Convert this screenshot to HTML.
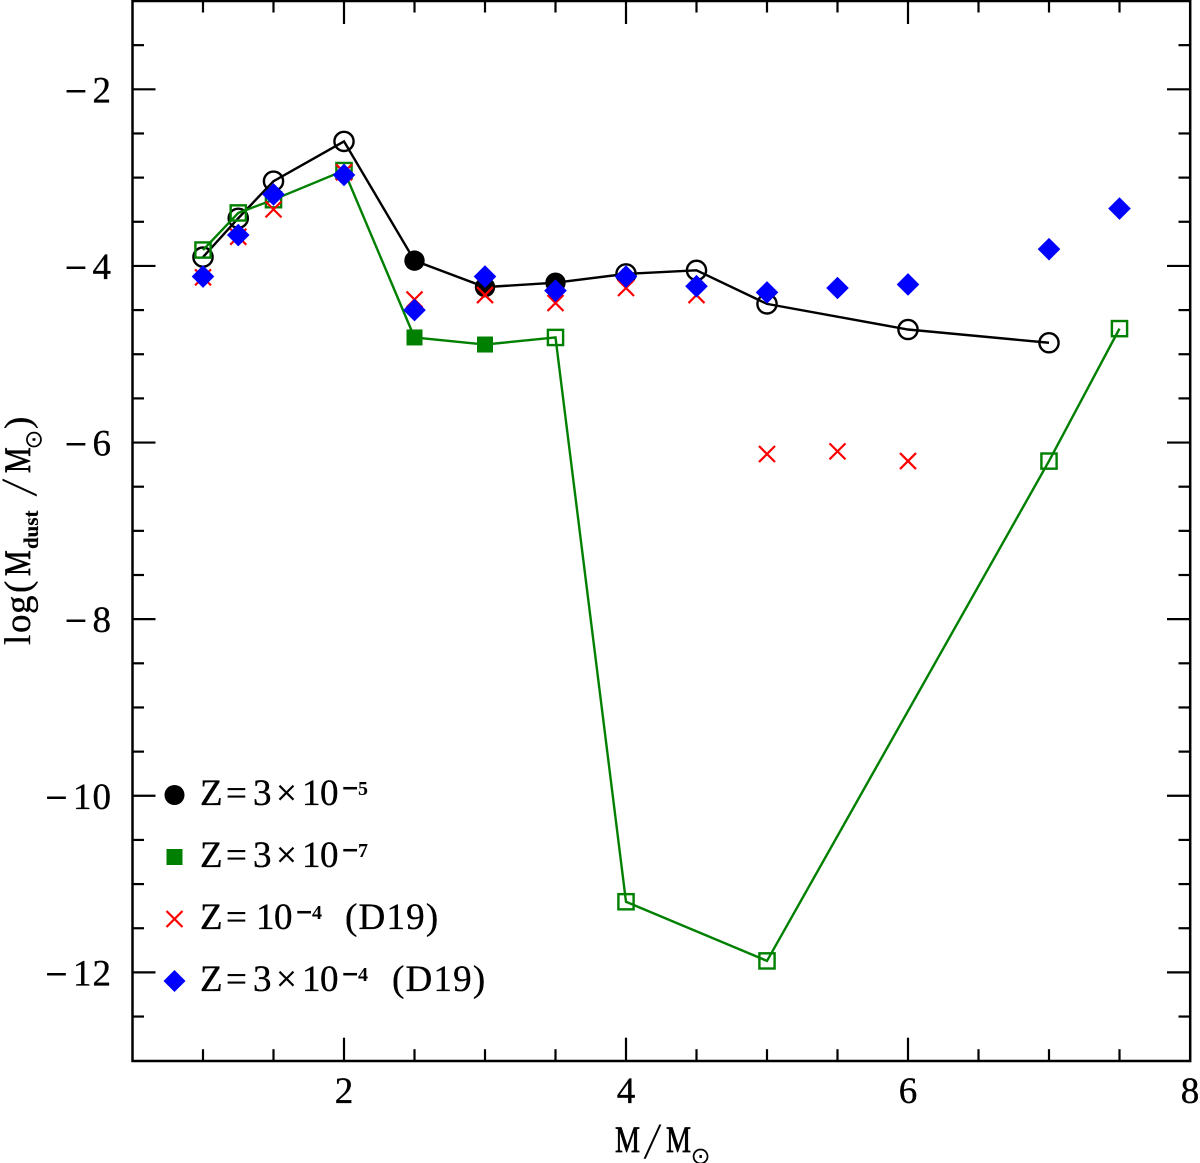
<!DOCTYPE html>
<html lang="en">
<head>
<meta charset="utf-8">
<title>Dust mass vs stellar mass</title>
<style>
html,body{margin:0;padding:0;background:#fff;}
svg{display:block;}
text{font-family:"Liberation Serif","DejaVu Serif",serif;fill:#000;stroke:#000;stroke-width:.35px;}
.t{font-size:37px;}
.m{font-size:37px;stroke-width:.7px;}
.sl{font-size:36px;stroke-width:.4px;}
.s{font-size:20px;font-weight:bold;stroke-width:0;}
.sm{font-family:"DejaVu Sans",sans-serif;font-size:22px;font-weight:bold;}
.d{letter-spacing:1.2px;}
.sun{font-family:"DejaVu Sans",sans-serif;font-size:24px;stroke-width:0;}
</style>
</head>
<body>
<svg id="chart" xmlns="http://www.w3.org/2000/svg" width="1200" height="1163" viewBox="0 0 1200 1163">
  <rect x="0" y="0" width="1200" height="1163" fill="#fff"/>
  <g id="ticks"></g>
  <g id="ticklabels"></g>
  <g id="marks"></g>
  <rect x="132.5" y="1" width="1057.7" height="1060" fill="none" stroke="#000" stroke-width="2.5"/>

  <g>
    <text class="m" transform="translate(615,1152) scale(.76,1)">M</text>
    <text class="sl" transform="translate(644,1158) skewX(-12) scale(1,1.4)">/</text>
    <text class="m" transform="translate(666,1152) scale(.76,1)">M</text>
    <text class="sun" x="700.5" y="1164" text-anchor="middle">⊙</text>
  </g>
  <g transform="translate(30,645) rotate(-90)">
    <text class="t" x="0 12 31 52" y="0">log(</text>
    <text class="m" transform="translate(69,0) scale(.78,1)">M</text>
    <text x="96" y="8" style="font-size:21px;font-weight:bold;stroke-width:.2px">dust</text>
    <text class="sl" transform="translate(149,6) skewX(-12) scale(1,1.4)">/</text>
    <text class="m" transform="translate(172,0) scale(.78,1)">M</text>
    <text class="sun" x="205.5" y="11.5" text-anchor="middle">⊙</text>
    <text class="t" x="216" y="0">)</text>
  </g>

  <g>
    <g>
      <circle cx="174.5" cy="795" r="10" fill="#000"/>
      <text class="t" x="200 226 253 276 302 320" y="805">Z=3×10</text><text class="s" y="795"><tspan class="sm" x="341">−</tspan><tspan x="358">5</tspan></text>
    </g>
    <g>
      <rect x="166.5" y="849" width="16" height="16" fill="#008000"/>
      <text class="t" x="200 226 253 276 302 320" y="867">Z=3×10</text><text class="s" y="857"><tspan class="sm" x="341">−</tspan><tspan x="358">7</tspan></text>
    </g>
    <g>
      <path d="M166.5 911L182.5 927M182.5 911L166.5 927" stroke="#f00" stroke-width="2.2" fill="none"/>
      <text class="t" x="200 226 256 274" y="929">Z=10</text><text class="s" y="919"><tspan class="sm" x="295">−</tspan><tspan x="312">4</tspan></text><text class="t d" x="345" y="929">(D19)</text>
    </g>
    <g>
      <path d="M174.5 970L185.5 981L174.5 992L163.5 981Z" fill="#00f"/>
      <text class="t" x="200 226 253 276 302 320" y="991">Z=3×10</text><text class="s" y="981"><tspan class="sm" x="341">−</tspan><tspan x="358">4</tspan></text><text class="t d" x="392" y="991">(D19)</text>
    </g>
  </g>
</svg>
<script>
// Tick values
const xMajorTicks = [2, 4, 6, 8];
const xTickStep = [0.5];
const yMajorTicks = [-2, -4, -6, -8, -10, -12];
const yRange = [-13, -1];
const xRange = [0.5, 8];

// Z = 3e-5 (black line)
const blackMass = [1, 1.25, 1.5, 2, 2.5, 3, 3.5, 4, 4.5, 5, 6, 7];
const blackLogDust = [-3.90, -3.46, -3.04, -2.59, -3.94, -4.24, -4.19, -4.09, -4.05, -4.43, -4.72, -4.87];
const blackFilled = [0, 0, 0, 0, 1, 1, 1, 0, 0, 0, 0, 0];

// Z = 3e-7 (green line)
const greenMass = [1, 1.25, 1.5, 2, 2.5, 3, 3.5, 4, 5, 7, 7.5];
const greenLogDust = [-3.82, -3.40, -3.25, -2.92, -4.81, -4.89, -4.81, -11.20, -11.87, -6.21, -4.71];
const greenFilled = [0, 0, 0, 0, 1, 1, 0, 0, 0, 0, 0];

// Z = 1e-4 D19 (red crosses)
const redMass = [1, 1.25, 1.5, 2, 2.5, 3, 3.5, 4, 4.5, 5, 5.5, 6];
const redLogDust = [-4.13, -3.67, -3.36, -2.94, -4.38, -4.33, -4.42, -4.25, -4.33, -6.13, -6.10, -6.21];

// Z = 3e-4 D19 (blue diamonds)
const blueMass = [1, 1.25, 1.5, 2, 2.5, 3, 3.5, 4, 4.5, 5, 5.5, 6, 7, 7.5];
const blueLogDust = [-4.12, -3.65, -3.19, -2.97, -4.50, -4.12, -4.28, -4.12, -4.23, -4.30, -4.25, -4.21, -3.81, -3.35];

const NS = 'http://www.w3.org/2000/svg';
const LEFT = 132.5, RIGHT = 1190, TOP = 1, BOTTOM = 1060.7;
const sx = v => LEFT + (v - xRange[0]) * (RIGHT - LEFT) / (xRange[1] - xRange[0]);
const sy = v => TOP + (yRange[1] - v) * (BOTTOM - TOP) / (yRange[1] - yRange[0]);
const ticksG = document.getElementById('ticks');
const labelsG = document.getElementById('ticklabels');
const marksG = document.getElementById('marks');

function mk(tag, parent, attrs) {
  const el = document.createElementNS(NS, tag);
  for (const k in attrs) el.setAttribute(k, attrs[k]);
  parent.appendChild(el);
  return el;
}

function drawTick(x1, y1, x2, y2) {
  const el = mk('line', ticksG, {x1: x1, y1: y1, x2: x2, y2: y2, stroke: '#000', 'stroke-width': 2.2});
  
  
}

for (let v = xRange[0] + xTickStep[0]; v < xRange[1]; v += xTickStep[0]) {
  const len = xMajorTicks.includes(v) ? 23 : 11.5;
  drawTick(sx(v), BOTTOM, sx(v), BOTTOM - len);
  drawTick(sx(v), TOP, sx(v), TOP + len);
}
for (let v = yRange[0] + xTickStep[0]; v < yRange[1]; v += xTickStep[0]) {
  const len = yMajorTicks.includes(v) ? 23 : 11.5;
  drawTick(LEFT, sy(v), LEFT + len, sy(v));
  drawTick(RIGHT, sy(v), RIGHT - len, sy(v));
}

xMajorTicks.forEach(v => {
  const t = mk('text', labelsG, {class: 't', x: sx(v), y: 1103, 'text-anchor': 'middle'});
  t.textContent = String(v);
  
  
});
yMajorTicks.forEach(v => {
  const t = mk('text', labelsG, {class: 't', x: 112, y: sy(v) + 13, 'text-anchor': 'end', style: 'letter-spacing:1px'});
  const minus = mk('tspan', t, {dy: -2, style: 'font-family:"DejaVu Sans",sans-serif;font-size:30px;stroke-width:0'});
  minus.textContent = '\u2212';
  const digits = mk('tspan', t, {dx: 3, dy: 2});
  digits.textContent = String(Math.abs(v));
  
  
});

function polyline(xs, ys, color, name) {
  const pts = xs.map((x, i) => sx(x) + ',' + sy(ys[i])).join(' ');
  const el = mk('polyline', marksG, {points: pts, fill: 'none', stroke: color, 'stroke-width': 2.4, 'stroke-linejoin': 'miter'});
  
  
}

polyline(blackMass, blackLogDust, '#000', 'line-z3e-5');
blackMass.forEach((x, i) => {
  const filled = blackFilled[i];
  const el = mk('circle', marksG, {
    cx: sx(x), cy: sy(blackLogDust[i]), r: filled ? 10.2 : 9.6,
    fill: filled ? '#000' : 'none', stroke: '#000', 'stroke-width': filled ? 0 : 2.4
  });
  
  
});

polyline(greenMass, greenLogDust, '#008000', 'line-z3e-7');
greenMass.forEach((x, i) => {
  const filled = greenFilled[i];
  const cx = sx(x), cy = sy(greenLogDust[i]);
  const h = filled ? 8 : 7.6;
  const el = mk('rect', marksG, {
    x: cx - h, y: cy - h, width: 2 * h, height: 2 * h,
    fill: filled ? '#008000' : 'none', stroke: '#008000', 'stroke-width': filled ? 0 : 2.4
  });
  
  
});

redMass.forEach((x, i) => {
  const cx = sx(x), cy = sy(redLogDust[i]), h = 8;
  const el = mk('path', marksG, {
    d: 'M' + (cx - h) + ' ' + (cy - h) + 'L' + (cx + h) + ' ' + (cy + h) + 'M' + (cx + h) + ' ' + (cy - h) + 'L' + (cx - h) + ' ' + (cy + h),
    fill: 'none', stroke: '#f00', 'stroke-width': 2.2
  });
  
  
});

blueMass.forEach((x, i) => {
  const cx = sx(x), cy = sy(blueLogDust[i]), h = 11.3;
  const el = mk('path', marksG, {
    d: 'M' + cx + ' ' + (cy - h) + 'L' + (cx + h) + ' ' + cy + 'L' + cx + ' ' + (cy + h) + 'L' + (cx - h) + ' ' + cy + 'Z',
    fill: '#00f'
  });
  
  
});
</script>
</body>
</html>
